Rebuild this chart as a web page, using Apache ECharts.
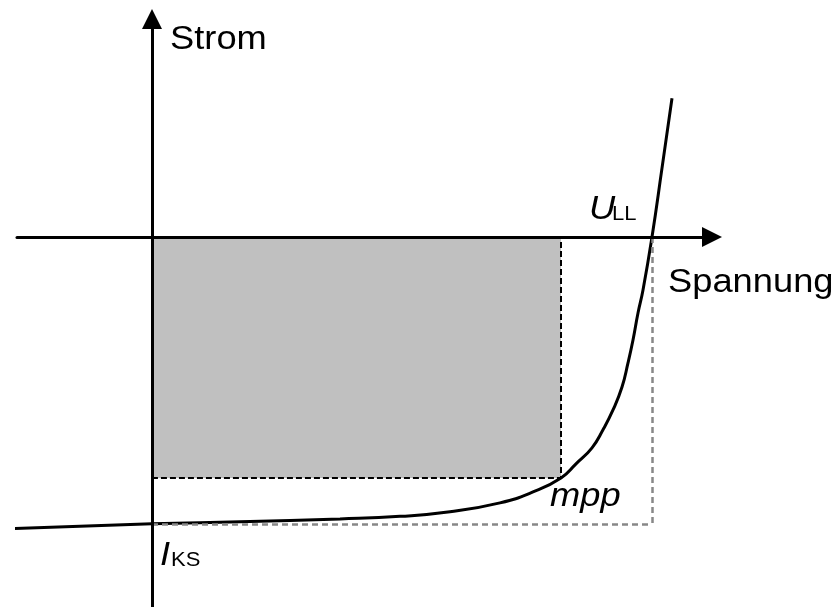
<!DOCTYPE html>
<html>
<head>
    <meta charset="utf-8">
    <title>Kennlinie</title>
    <script src="https://cdn.jsdelivr.net/npm/echarts@6/dist/echarts.min.js"></script>
    <style>
        html, body { margin: 0; padding: 0; background: #fff; }
    </style>
</head>
<body>

    <div id="kennlinie" style="width:838px;height:607px;"></div>

    <script type="text/javascript">

        // Kennlinie (Spannung relativ zu U_LL, Strom relativ zu I_KS)
        var spannung = [-0.28, 0.0, 0.176, 0.376, 0.496, 0.596, 0.696, 0.762, 0.818, 0.848, 0.880, 0.902, 0.922, 0.940, 0.952, 0.962, 0.972, 0.982, 1.0, 1.02, 1.04];
        var strom    = [-1.017, -1.0, -0.993, -0.983, -0.974, -0.958, -0.927, -0.889, -0.840, -0.791, -0.735, -0.672, -0.603, -0.523, -0.439, -0.359, -0.265, -0.185, 0, 0.240, 0.484];

        var mpp = [0.818, -0.840];
        var uLL = 1.0;
        var iKS = -1.0;

        var xRange = [-0.27, 1.12];
        var yRange = [-1.29, 0.76];

        var kurve = [];
        for (var i = 0; i < spannung.length; i++) {
            kurve.push([spannung[i], strom[i]]);
        }

        var myChart = echarts.init(document.getElementById('kennlinie'));

        var achse = {
            type: 'value',
            z: 10,
            axisLine: {
                onZero: true,
                symbol: ['none', 'triangle'],
                symbolSize: [20, 20],
                lineStyle: { color: '#000', width: 3 }
            },
            axisTick: { show: false },
            axisLabel: { show: false },
            splitLine: { show: false }
        };

        function text(x, y, str, font) {
            return {
                type: 'text',
                x: x,
                y: y,
                scaleX: 1.1,
                style: {
                    text: str,
                    font: font,
                    fill: '#000',
                    textAlign: 'left',
                    textVerticalAlign: 'middle'
                }
            };
        }

        var normal = "33px 'Liberation Sans'";
        var kursiv = "italic 33px 'Liberation Sans'";
        var klein = "20px 'Liberation Sans'";

        myChart.setOption({
            animation: false,
            grid: { left: 17, top: 19, width: 695, height: 588 },
            xAxis: Object.assign({}, achse, { min: xRange[0], max: xRange[1] }),
            yAxis: Object.assign({}, achse, { min: yRange[0], max: yRange[1] }),
            graphic: [
                text(170, 40, 'Strom', normal),
                text(668, 283, 'Spannung', normal),
                text(550, 497, 'mpp', kursiv),
                text(589, 210, 'U', kursiv),
                text(612, 214, 'LL', klein),
                text(160, 556, 'I', kursiv),
                text(171, 560, 'KS', klein)
            ],
            series: [{
                type: 'line',
                data: kurve,
                clip: false,
                smooth: 0.5,
                showSymbol: false,
                lineStyle: { color: '#000', width: 3 },
                markArea: {
                    silent: true,
                    itemStyle: {
                        color: '#c0c0c0',
                        borderColor: '#000',
                        borderWidth: 2,
                        borderType: [6, 3]
                    },
                    data: [[{ coord: [0, 0] }, { coord: mpp }]]
                },
                markLine: {
                    silent: true,
                    symbol: ['none', 'none'],
                    label: { show: false },
                    lineStyle: { color: '#888', width: 2.5, type: [6, 4] },
                    data: [
                        [{ coord: [uLL, 0] }, { coord: [uLL, iKS] }],
                        [{ coord: [0, iKS] }, { coord: [uLL, iKS] }]
                    ]
                }
            }]
        });

    </script>

</body>
</html>
